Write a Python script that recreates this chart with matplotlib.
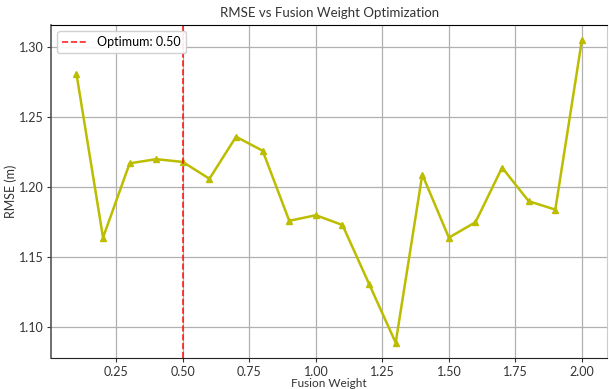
import numpy as np
import matplotlib.pyplot as plt

# fusion weight sweep and resulting RMSE
weights = [0.1, 0.2, 0.3, 0.4, 0.5, 0.6, 0.7, 0.8, 0.9, 1.0,
           1.1, 1.2, 1.3, 1.4, 1.5, 1.6, 1.7, 1.8, 1.9, 2.0]
rmse = [1.281, 1.164, 1.217, 1.220, 1.218, 1.206, 1.236, 1.226, 1.176, 1.180,
        1.173, 1.131, 1.089, 1.209, 1.164, 1.175, 1.214, 1.190, 1.184, 1.305]
best_weight = 0.50

plt.rcParams['font.family'] = ['Lato', 'DejaVu Sans']

fig = plt.figure(figsize=(6.09, 3.89), dpi=100)
ax = fig.add_axes([0.084, 0.080, 0.913, 0.856])

ax.plot(weights, rmse, color='#bcbd00', marker='^', markersize=5, linewidth=1.8)
ax.axvline(best_weight, color='red', linestyle='--', linewidth=1.2, alpha=0.85,
           label=f'Optimum: {best_weight:.2f}')

ax.set_xticks([0.25, 0.5, 0.75, 1.0, 1.25, 1.5, 1.75, 2.0])
ax.set_yticks([1.10, 1.15, 1.20, 1.25, 1.30])
ax.grid(True, color='#b0b0b0', linewidth=0.9)
ax.tick_params(labelsize=9, colors='#333333', length=3, pad=2.5)

ax.spines['top'].set_color('black')
ax.spines['left'].set_color('#555555')
ax.spines['left'].set_linewidth(1.2)
ax.spines['bottom'].set_color('#222222')
ax.spines['right'].set_color('#cccccc')

ax.set_title('RMSE vs Fusion Weight Optimization', fontsize=9.5, color='#333333', pad=6)
ax.set_xlabel('Fusion Weight', fontsize=8.5, color='#333333', labelpad=0)
ax.set_ylabel('RMSE (m)', fontsize=9, color='#333333', labelpad=1)
ax.legend(loc='upper left', fontsize=9, framealpha=0.9)

fig.savefig('out.png', dpi=100)
